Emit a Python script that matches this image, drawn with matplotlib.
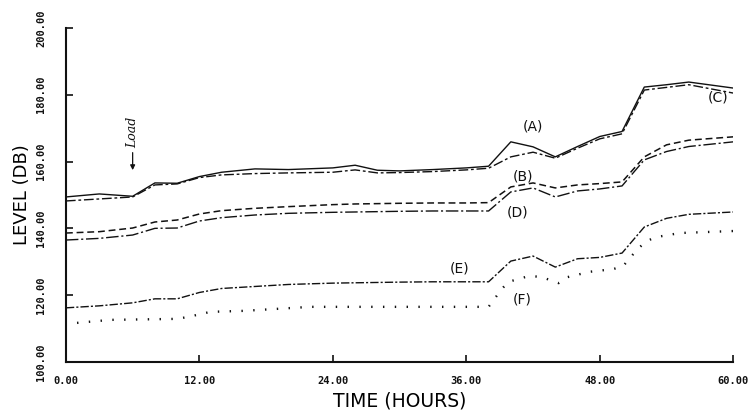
import matplotlib
matplotlib.use("Agg")
import matplotlib.pyplot as plt

# time grid (hours) shared by curves A-E
hours = [0, 3, 6, 8, 10, 12, 14, 17, 20, 24, 26, 28, 30, 33, 36, 38,
         40, 42, 44, 46, 48, 50, 52, 54, 56, 60]

level_a = [149.4, 150.3, 149.6, 153.6, 153.5, 155.5, 156.8, 157.8, 157.6, 158.1,
           158.9, 157.4, 157.2, 157.6, 158.1, 158.6, 165.9, 164.4, 161.4, 164.5,
           167.5, 169.0, 182.3, 183.0, 183.8, 182.0]
level_c = [148.2, 148.8, 149.4, 153.0, 153.3, 155.2, 156.0, 156.4, 156.6, 156.8,
           157.5, 156.6, 156.7, 157.0, 157.5, 158.0, 161.4, 162.8, 161.0, 164.0,
           166.8, 168.3, 181.4, 182.2, 183.0, 180.5]
level_b = [138.6, 139.0, 140.1, 141.9, 142.5, 144.3, 145.3, 146.0, 146.5, 147.1,
           147.3, 147.4, 147.5, 147.6, 147.6, 147.7, 152.4, 153.6, 152.1, 153.0,
           153.4, 153.9, 161.4, 165.0, 166.4, 167.4]
level_d = [136.5, 137.0, 138.0, 140.0, 140.1, 142.2, 143.2, 144.0, 144.5, 144.8,
           144.9, 145.0, 145.1, 145.2, 145.2, 145.2, 150.9, 152.1, 149.4, 151.2,
           151.8, 152.7, 160.5, 163.0, 164.5, 165.9]
level_e = [116.2, 116.8, 117.7, 118.9, 118.9, 120.8, 122.0, 122.6, 123.2, 123.6,
           123.7, 123.8, 123.9, 124.0, 124.0, 124.0, 130.2, 131.7, 128.4, 130.9,
           131.3, 132.6, 140.4, 143.0, 144.2, 144.9]

# curve F has its own time points
hours_f = [1, 4, 10, 11, 13, 16, 22, 30, 38, 39.2, 39.8, 41.6, 42.7, 44.3, 45.1,
           47.1, 49.2, 50.1, 50.7, 51.4, 52.2, 53.1, 55.2, 60]
level_f = [111.7, 112.6, 112.9, 113.5, 115.0, 115.3, 116.5, 116.5, 116.5, 121.9,
           124.0, 125.7, 125.5, 123.6, 125.4, 127.0, 127.8, 128.7, 131.1, 133.8,
           136.2, 137.4, 138.6, 139.2]

xticks = [0, 12, 24, 36, 48, 60]
yticks = [100, 120, 140, 160, 180, 200]

fig = plt.figure(figsize=(7.49, 4.17), dpi=100)
ax = fig.add_axes([0.088, 0.132, 0.891, 0.801])

ink = "#111111"
ax.plot(hours, level_a, color=ink, lw=1.0, ls="-")
ax.plot(hours, level_c, color=ink, lw=1.0, ls=(0, (7, 2, 2, 2)))
ax.plot(hours, level_b, color=ink, lw=1.1, ls=(0, (4.5, 2.5)))
ax.plot(hours, level_d, color=ink, lw=1.0, ls=(0, (9, 2, 1.5, 2)))
ax.plot(hours, level_e, color=ink, lw=1.0, ls=(0, (6, 1.5, 1.5, 1.5)))
ax.plot(hours_f, level_f, color=ink, lw=1.7, ls=(0, (0.6, 4.4)))

# curve labels
lab_font = dict(fontsize=10, family="DejaVu Sans", color=ink, ha="center", va="center")
ax.text(42.0, 170.4, "(A)", **lab_font)
ax.text(41.1, 155.4, "(B)", **lab_font)
ax.text(58.6, 179.3, "(C)", **lab_font)
ax.text(40.6, 144.6, "(D)", **lab_font)
ax.text(35.4, 128.1, "(E)", **lab_font)
ax.text(41.0, 118.6, "(F)", **lab_font)

# load marker
ax.annotate("", xy=(6.0, 156.6), xytext=(6.0, 163.5),
            arrowprops=dict(arrowstyle="-|>", color=ink, lw=0.9, mutation_scale=7))
ax.text(6.0, 168.6, "Load", rotation=90, ha="center", va="center",
        fontsize=9, style="italic", family="DejaVu Serif", color=ink)

ax.set_xlim(0, 60)
ax.set_ylim(100, 200)
ax.set_xticks(xticks)
ax.set_yticks(yticks)
ax.set_xticklabels(["%.2f" % v for v in xticks])
ax.set_yticklabels(["%.2f" % v for v in yticks], rotation=90, va="center")
for lbl in ax.get_xticklabels() + ax.get_yticklabels():
    lbl.set_family("DejaVu Sans Mono")
    lbl.set_fontweight("bold")
    lbl.set_fontsize(7.5)
ax.tick_params(direction="in", length=5, width=1.2, colors=ink)
ax.tick_params(axis="x", pad=10)
ax.tick_params(axis="y", pad=14)

for side in ["top", "right"]:
    ax.spines[side].set_visible(False)
for side in ["left", "bottom"]:
    ax.spines[side].set_linewidth(1.5)
    ax.spines[side].set_color(ink)

ax.set_xlabel("TIME (HOURS)", fontsize=13.5, family="DejaVu Sans",
              color="#000000", labelpad=4)
ax.set_ylabel("LEVEL (DB)", fontsize=13, family="DejaVu Sans",
              color="#000000", labelpad=4)

fig.savefig("out.png", dpi=100, facecolor="white")
